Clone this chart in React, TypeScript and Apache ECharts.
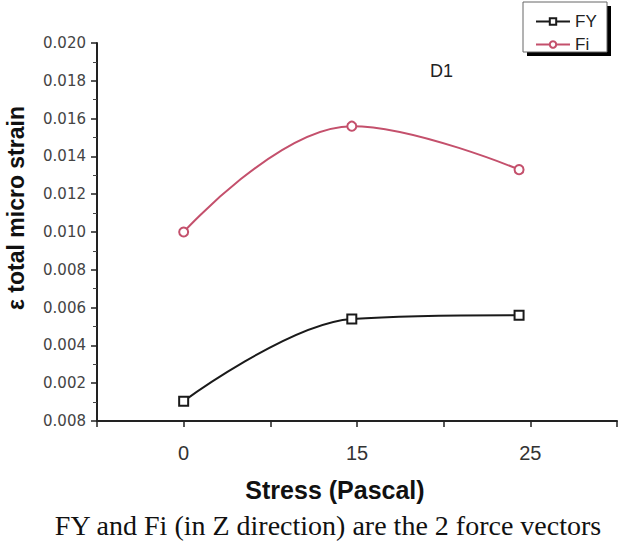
import React, { useEffect, useRef } from "react";
import * as echarts from "echarts";

const xPositions = [1, 2.94, 4.87];
const xTickLabels = ["", "0", "", "15", "", "25", ""];
const fyValues = [0.00105, 0.0054, 0.0056];
const fiValues = [0.01, 0.0156, 0.0133];
const yTickLabels: Record<string, string> = {
  "0": "0.008",
  "0.002": "0.002",
  "0.004": "0.004",
  "0.006": "0.006",
  "0.008": "0.008",
  "0.01": "0.010",
  "0.012": "0.012",
  "0.014": "0.014",
  "0.016": "0.016",
  "0.018": "0.018",
  "0.02": "0.020",
};

export default function App() {
  const ref = useRef<HTMLDivElement>(null);
  useEffect(() => {
    const chart = echarts.init(ref.current!, null, { renderer: "svg" });
    const fyData = xPositions.map((x, i) => [x, fyValues[i]]);
    const fiData = xPositions.map((x, i) => [x, fiValues[i]]);
    chart.setOption({
      animation: false,
      backgroundColor: "#ffffff",
      grid: { left: 97, top: 43, width: 520, height: 378 },
      legend: {
        orient: "vertical",
        left: 530,
        top: 8,
        itemWidth: 34,
        itemHeight: 8,
        itemGap: 6,
        textStyle: { fontFamily: "Liberation Sans, Arial", fontSize: 17, color: "#222" },
        data: ["FY", "Fi"],
      },
      xAxis: {
        type: "value",
        min: 0,
        max: 6,
        interval: 1,
        splitLine: { show: false },
        axisLine: { lineStyle: { color: "#222", width: 2 } },
        axisTick: { length: 6, lineStyle: { color: "#222", width: 1.5 } },
        axisLabel: {
          margin: 22,
          fontFamily: "Liberation Sans, Arial",
          fontSize: 20,
          color: "#333",
          formatter: (v: number) => xTickLabels[Math.round(v)] ?? "",
        },
      },
      yAxis: {
        type: "value",
        min: 0,
        max: 0.02,
        interval: 0.002,
        splitLine: { show: false },
        axisLine: { show: true, lineStyle: { color: "#222", width: 2 } },
        axisTick: { show: true, length: 6, lineStyle: { color: "#222", width: 1.5 } },
        minorTick: { show: true, splitNumber: 2, length: 4, lineStyle: { color: "#444" } },
        minorSplitLine: { show: false },
        axisLabel: {
          margin: 11,
          fontFamily: "DejaVu Sans",
          fontSize: 15,
          color: "#444",
          formatter: (v: number) => yTickLabels[String(Math.round(v * 1000) / 1000)] ?? "",
        },
      },
      series: [
        {
          name: "FY",
          type: "line",
          data: fyData,
          smooth: 0.35,
          symbol: "emptyRect",
          symbolSize: 9,
          lineStyle: { color: "#1a1a1a", width: 2 },
          itemStyle: { color: "#1a1a1a", borderWidth: 1.5 },
        },
        {
          name: "Fi",
          type: "line",
          data: fiData,
          smooth: 0.4,
          symbol: "emptyCircle",
          symbolSize: 9,
          lineStyle: { color: "#c4506c", width: 2 },
          itemStyle: { color: "#c4506c", borderWidth: 1.5 },
        },
      ],
      graphic: [
        { type: "rect", z: -1, shape: { x: 527, y: 6, width: 84, height: 50 }, style: { fill: "#000" } },
        { type: "rect", z: 0, shape: { x: 523, y: 2, width: 84, height: 50 }, style: { fill: "#fff", stroke: "#666", lineWidth: 1 } },
        {
          type: "text",
          left: 430,
          top: 62,
          style: { text: "D1", font: "18px 'Liberation Sans', Arial", fill: "#222" },
        },
        {
          type: "text",
          x: 16,
          y: 208,
          rotation: Math.PI / 2,
          style: {
            text: "ε total micro strain",
            font: "bold 23px 'Liberation Sans', Arial",
            fill: "#111",
            align: "center",
            verticalAlign: "middle",
          },
        },
        {
          type: "text",
          x: 335,
          y: 490,
          style: {
            text: "Stress (Pascal)",
            font: "bold 25px 'Liberation Sans', Arial",
            fill: "#111",
            align: "center",
            verticalAlign: "middle",
          },
        },
        {
          type: "text",
          x: 328,
          y: 525,
          style: {
            text: "FY and Fi (in Z direction) are the 2 force vectors",
            font: "28px 'Liberation Serif', 'Times New Roman', serif",
            fill: "#111",
            align: "center",
            verticalAlign: "middle",
          },
        },
      ],
    });
    return () => chart.dispose();
  }, []);
  return <div ref={ref} style={{ width: 626, height: 544, position: "absolute", left: 0, top: 0 }} />;
}
